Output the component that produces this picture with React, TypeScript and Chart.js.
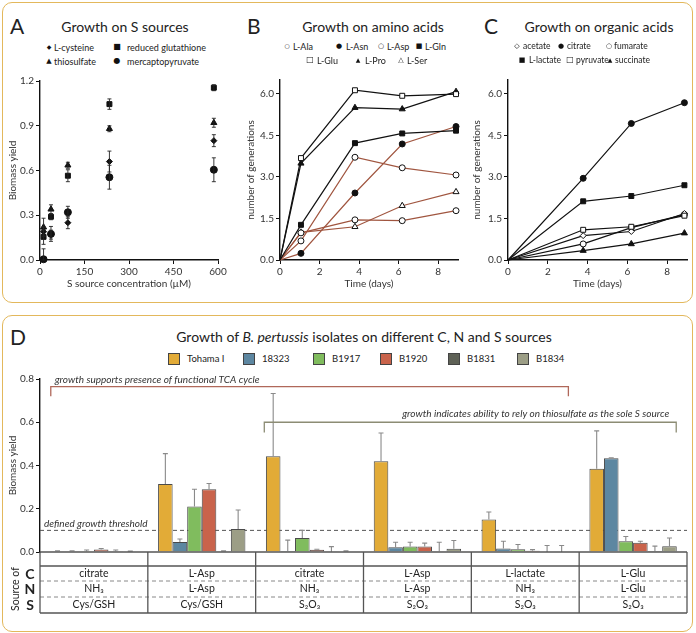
import React, { useEffect, useRef } from "react";
import { Chart, registerables } from "chart.js";
Chart.register(...registerables);

const FONT = "Lato, 'Open Sans', sans-serif";

// ---------- Panel A: Growth on S sources ----------
const concA = [12, 37, 94, 234, 586];
const cysteine = [0.19, 0.17, 0.25, 0.66, 0.8];
const cysteineErr = [0.03, 0.03, 0.04, 0.07, 0.04];
const thiosulfate = [0.22, 0.34, 0.635, 0.88, 0.92];
const thiosulfateErr = [0.06, 0.03, 0.02, 0.02, 0.03];
const glutathione = [0.155, 0.29, 0.565, 1.045, 1.155];
const glutathioneErr = [0.05, 0.02, 0.04, 0.035, 0.02];
const mercapto = [0.005, 0.175, 0.32, 0.555, 0.605];
const mercaptoErr = [0.07, 0.05, 0.04, 0.08, 0.08];
const ticksAy = [0, 0.3, 0.6, 0.9, 1.2];
const ticksAx = [0, 150, 300, 450, 600];

// ---------- Panel B: Growth on amino acids ----------
const timeB = [0, 1.06, 3.79, 6.18, 8.9];
const bAla = [0, 0.98, 1.45, 1.42, 1.78];
const bAsn = [0, 0.24, 2.42, 4.19, 4.82];
const bAsp = [0, 0.69, 3.71, 3.33, 3.07];
const bGln = [0, 1.27, 4.22, 4.57, 4.67];
const bGlu = [0, 3.68, 6.13, 5.93, 5.99];
const bPro = [0, 3.49, 5.5, 5.45, 6.08];
const bSer = [0, 1.0, 1.2, 1.96, 2.46];

// ---------- Panel C: Growth on organic acids ----------
const timeC = [0, 3.78, 6.2, 8.87];
const cAcetate = [0, 0.88, 1.03, 1.68];
const cCitrate = [0, 2.95, 4.93, 5.68];
const cFumarate = [0, 0.58, 1.17, 1.64];
const cLactate = [0, 2.12, 2.31, 2.7];
const cPyruvate = [0, 1.09, 1.2, 1.6];
const cSuccinate = [0, 0.34, 0.58, 0.97];
const ticksGenY = [0, 1.5, 3, 4.5, 6];
const ticksDaysX = [0, 2, 4, 6, 8];

// ---------- Panel D: B. pertussis isolates ----------
const cSrc = ["citrate", "L-Asp", "citrate", "L-Asp", "L-lactate", "L-Glu"];
const nSrc = ["NH₃", "L-Asp", "NH₃", "L-Asp", "NH₃", "L-Glu"];
const sSrc = ["Cys/GSH", "Cys/GSH", "S₂O₃", "S₂O₃", "S₂O₃", "S₂O₃"];
const strains = ["Tohama I", "18323", "B1917", "B1920", "B1831", "B1834"];
const strainColors = ["#E2AB37", "#5D87A1", "#80BC5E", "#C9634B", "#5E6156", "#9C9E86"];
const tohama = [0.003, 0.315, 0.443, 0.42, 0.15, 0.385];
const tohamaErr = [0.003, 0.14, 0.29, 0.13, 0.035, 0.175];
const s18323 = [0.003, 0.046, 0.005, 0.022, 0.016, 0.433];
const s18323Err = [0.003, 0.014, 0.05, 0.023, 0.034, 0.003];
const b1917 = [0.004, 0.21, 0.065, 0.025, 0.013, 0.05];
const b1917Err = [0.005, 0.08, 0.035, 0.02, 0.022, 0.022];
const b1920 = [0.012, 0.29, 0.01, 0.025, 0.006, 0.043];
const b1920Err = [0.004, 0.027, 0.003, 0.016, 0.005, 0.007];
const b1831 = [0.004, 0.003, 0.001, 0.003, 0, 0.005];
const b1831Err = [0.005, 0.002, 0.024, 0.042, 0.03, 0.022];
const b1834 = [0.002, 0.106, 0.002, 0.015, 0, 0.027];
const b1834Err = [0.002, 0.088, 0.003, 0.038, 0.03, 0.038];
const strainValues = [tohama, s18323, b1917, b1920, b1831, b1834];
const strainErrors = [tohamaErr, s18323Err, b1917Err, b1920Err, b1831Err, b1834Err];
const threshold = 0.1;
const ticksDy = [0, 0.2, 0.4, 0.6, 0.8];

const BROWN = "#A0553F";

function pts(xs: number[], ys: number[]) {
  return ys.map((y, i) => ({ x: xs[i], y }));
}

function linAxis(opts: {
  min: number; max: number; ticks: number[]; fmt: (v: number) => string;
  size: number; vertical: boolean; title: string; titlePad: number;
}) {
  return {
    type: "linear",
    min: opts.min,
    max: opts.max,
    afterBuildTicks: (s: any) => { s.ticks = opts.ticks.map((v) => ({ value: v })); },
    afterFit: (s: any) => { if (opts.vertical) s.width = opts.size; else s.height = opts.size; },
    border: { display: true, color: "#111", width: 1.4 },
    grid: { display: true, drawOnChartArea: false, drawTicks: true, tickLength: 4, color: "#111", tickColor: "#111", tickWidth: 1 },
    ticks: { autoSkip: false, padding: 2, color: "#333", font: { family: FONT, size: 10 }, callback: (v: any) => opts.fmt(Number(v)) },
    title: {
      display: true, text: opts.title, color: "#333", font: { family: FONT, size: 10 },
      padding: opts.vertical ? { top: opts.titlePad, bottom: 0 } : { top: 0, bottom: opts.titlePad },
    },
  };
}

const errorBarsA = {
  id: "errA",
  afterDatasetsDraw(chart: any) {
    const { ctx } = chart;
    const y = chart.scales.y;
    ctx.save();
    ctx.strokeStyle = "#222";
    ctx.lineWidth = 0.9;
    chart.data.datasets.forEach((ds: any, i: number) => {
      const meta = chart.getDatasetMeta(i);
      meta.data.forEach((el: any, j: number) => {
        const v = ds.data[j].y;
        const e = ds.errors[j];
        const top = y.getPixelForValue(v + e);
        const bot = y.getPixelForValue(Math.max(0, v - e));
        ctx.beginPath();
        ctx.moveTo(el.x, top); ctx.lineTo(el.x, bot);
        ctx.moveTo(el.x - 2, top); ctx.lineTo(el.x + 2, top);
        ctx.moveTo(el.x - 2, bot); ctx.lineTo(el.x + 2, bot);
        ctx.stroke();
      });
    });
    ctx.restore();
  },
};

const panelDPlugin = {
  id: "panelD",
  beforeDatasetsDraw(chart: any) {
    const { ctx, chartArea } = chart;
    const y = chart.scales.y;
    const ty = y.getPixelForValue(threshold);
    ctx.save();
    ctx.strokeStyle = "#555";
    ctx.lineWidth = 1;
    ctx.setLineDash([4, 3]);
    ctx.beginPath();
    ctx.moveTo(chartArea.left, ty);
    ctx.lineTo(chartArea.right, ty);
    ctx.stroke();
    ctx.setLineDash([]);
    ctx.fillStyle = "#333";
    ctx.font = `italic 10px ${FONT}`;
    ctx.textAlign = "left";
    ctx.textBaseline = "bottom";
    ctx.fillText("defined growth threshold", chartArea.left + 4, ty - 2);
    ctx.restore();
  },
  afterDatasetsDraw(chart: any) {
    const { ctx } = chart;
    const x = chart.scales.x;
    const y = chart.scales.y;
    ctx.save();
    // error bars (upper only)
    ctx.strokeStyle = "#8a8a8a";
    ctx.lineWidth = 1.1;
    chart.data.datasets.forEach((ds: any, i: number) => {
      const meta = chart.getDatasetMeta(i);
      meta.data.forEach((el: any, j: number) => {
        const v = ds.data[j];
        const e = ds.errors[j];
        const top = y.getPixelForValue(v + e);
        ctx.beginPath();
        ctx.moveTo(el.x, el.y);
        ctx.lineTo(el.x, top);
        ctx.moveTo(el.x - 2.5, top);
        ctx.lineTo(el.x + 2.5, top);
        ctx.stroke();
      });
    });
    // brackets
    const brackets = [
      { from: -0.4, to: 4.4, at: 0.765, tick: 0.72, color: "#B0685A", text: "growth supports presence of functional TCA cycle", align: "left" },
      { from: 1.58, to: 5.4, at: 0.6, tick: 0.553, color: "#8C8C74", text: "growth indicates ability to rely on thiosulfate as the sole S source", align: "right" },
    ];
    brackets.forEach((b) => {
      const x1 = x.getPixelForValue(b.from);
      const x2 = x.getPixelForValue(b.to);
      const yl = y.getPixelForValue(b.at);
      const yt = y.getPixelForValue(b.tick);
      ctx.strokeStyle = b.color;
      ctx.lineWidth = 1.3;
      ctx.beginPath();
      ctx.moveTo(x1, yt); ctx.lineTo(x1, yl); ctx.lineTo(x2, yl); ctx.lineTo(x2, yt);
      ctx.stroke();
      ctx.fillStyle = "#333";
      ctx.font = `italic 10px ${FONT}`;
      ctx.textBaseline = "middle";
      if (b.align === "left") {
        ctx.textAlign = "left";
        ctx.fillText(b.text, x1 + 4, yl - 7);
      } else {
        ctx.textAlign = "right";
        ctx.fillText(b.text, x2 - 7, yl - 8);
      }
    });
    ctx.restore();
  },
  afterDraw(chart: any) {
    const { ctx, chartArea } = chart;
    const { left, right, bottom } = chartArea;
    const n = cSrc.length;
    const w = (right - left) / n;
    const rows = [bottom + 14, bottom + 29, bottom + 45, bottom + 61];
    ctx.save();
    const hline = (yy: number, dashed: boolean) => {
      ctx.strokeStyle = dashed ? "#888" : "#555";
      ctx.lineWidth = dashed ? 1 : 1.3;
      ctx.setLineDash(dashed ? [4, 3] : []);
      ctx.beginPath();
      ctx.moveTo(left, yy);
      ctx.lineTo(right, yy);
      ctx.stroke();
    };
    hline(bottom, false);
    hline(rows[0], false);
    hline(rows[1], true);
    hline(rows[2], true);
    hline(rows[3], false);
    ctx.setLineDash([]);
    ctx.strokeStyle = "#555";
    ctx.lineWidth = 1.3;
    for (let k = 0; k <= n; k++) {
      const xx = left + k * w;
      ctx.beginPath();
      ctx.moveTo(xx, bottom);
      ctx.lineTo(xx, rows[3]);
      ctx.stroke();
    }
    ctx.fillStyle = "#222";
    ctx.font = `10.5px ${FONT}`;
    ctx.textAlign = "center";
    ctx.textBaseline = "middle";
    for (let k = 0; k < n; k++) {
      const cx = left + (k + 0.5) * w;
      ctx.fillText(cSrc[k], cx, (rows[0] + rows[1]) / 2);
      ctx.fillText(nSrc[k], cx, (rows[1] + rows[2]) / 2);
      ctx.fillText(sSrc[k], cx, (rows[2] + rows[3]) / 2);
    }
    ctx.restore();
  },
};

function baseOptions(padding: any) {
  return {
    responsive: false,
    animation: false,
    devicePixelRatio: 1,
    layout: { padding },
    plugins: { legend: { display: false }, tooltip: { enabled: false } },
  };
}

function lineDs(xs: number[], ys: number[], color: string, style: string, filled: boolean, radius = 3) {
  return {
    data: pts(xs, ys),
    borderColor: color,
    borderWidth: 1.2,
    pointStyle: style,
    pointRadius: (c: any) => (c.dataIndex === 0 ? 0 : radius),
    pointBackgroundColor: filled ? "#111" : "#fff",
    pointBorderColor: "#111",
    pointBorderWidth: 1,
    clip: false,
    showLine: true,
    fill: false,
  };
}

const T = ({ x, y, s = 9, a = "left", st = {}, children }: any) => {
  const tx = a === "center" ? "-50%" : a === "right" ? "-100%" : "0";
  return (
    <span style={{ position: "absolute", left: x, top: y, transform: `translate(${tx},-50%)`, fontSize: s, lineHeight: 1, whiteSpace: "nowrap", color: "#222", ...st }}>
      {children}
    </span>
  );
};

const G = ({ x, y, g, s = 8 }: any) => (
  <span style={{ position: "absolute", left: x, top: y, transform: "translate(-50%,-50%)", fontSize: s, lineHeight: 1, color: "#111", fontFamily: "DejaVu Sans" }}>{g}</span>
);

export default function App() {
  const refA = useRef<HTMLCanvasElement>(null);
  const refB = useRef<HTMLCanvasElement>(null);
  const refC = useRef<HTMLCanvasElement>(null);
  const refD = useRef<HTMLCanvasElement>(null);

  useEffect(() => {
    Chart.defaults.font.family = FONT;
    const charts: Chart[] = [];

    charts.push(new Chart(refA.current as any, {
      type: "scatter",
      data: {
        datasets: [
          { data: pts(concA, glutathione), errors: glutathioneErr, pointStyle: "rect", pointRadius: 3.5, backgroundColor: "#111", borderColor: "#111", clip: false } as any,
          { data: pts(concA, thiosulfate), errors: thiosulfateErr, pointStyle: "triangle", pointRadius: 3.5, backgroundColor: "#111", borderColor: "#111", clip: false } as any,
          { data: pts(concA, cysteine), errors: cysteineErr, pointStyle: "rectRot", pointRadius: 3, backgroundColor: "#111", borderColor: "#111", clip: false } as any,
          { data: pts(concA, mercapto), errors: mercaptoErr, pointStyle: "circle", pointRadius: 3.5, backgroundColor: "#111", borderColor: "#111", clip: false } as any,
        ],
      },
      options: {
        ...baseOptions({ top: 11, right: 17, left: 0, bottom: 0 }),
        scales: {
          x: linAxis({ min: 0, max: 600, ticks: ticksAx, fmt: (v) => String(v), size: 30, vertical: false, title: "S source concentration (µM)", titlePad: 0 }),
          y: linAxis({ min: 0, max: 1.2, ticks: ticksAy, fmt: (v) => v.toFixed(1), size: 40, vertical: true, title: "Biomass yield", titlePad: 7 }),
        },
      } as any,
      plugins: [errorBarsA],
    }));

    charts.push(new Chart(refB.current as any, {
      type: "line",
      data: {
        datasets: [
          lineDs(timeB, bGlu, "#111", "rect", false, 3.5),
          lineDs(timeB, bPro, "#111", "triangle", true, 3.5),
          lineDs(timeB, bGln, "#111", "rect", true, 3.5),
          lineDs(timeB, bAsn, BROWN, "circle", true),
          lineDs(timeB, bAsp, BROWN, "circle", false),
          lineDs(timeB, bAla, BROWN, "circle", false),
          lineDs(timeB, bSer, BROWN, "triangle", false, 3.5),
        ] as any,
      },
      options: {
        ...baseOptions({ top: 10, right: 10, left: 0, bottom: 0 }),
        scales: {
          x: linAxis({ min: 0, max: 9, ticks: ticksDaysX, fmt: (v) => String(v), size: 30, vertical: false, title: "Time (days)", titlePad: 0 }),
          y: linAxis({ min: 0, max: 6.5, ticks: ticksGenY, fmt: (v) => v.toFixed(1), size: 48, vertical: true, title: "number of generations", titlePad: 13 }),
        },
      } as any,
    }));

    charts.push(new Chart(refC.current as any, {
      type: "line",
      data: {
        datasets: [
          lineDs(timeC, cCitrate, "#111", "circle", true),
          lineDs(timeC, cLactate, "#111", "rect", true, 3.5),
          lineDs(timeC, cPyruvate, "#111", "rect", false, 3.5),
          lineDs(timeC, cAcetate, "#111", "rectRot", false, 3),
          lineDs(timeC, cFumarate, "#111", "circle", false),
          lineDs(timeC, cSuccinate, "#111", "triangle", true, 3.5),
        ] as any,
      },
      options: {
        ...baseOptions({ top: 10, right: 4, left: 0, bottom: 0 }),
        scales: {
          x: linAxis({ min: 0, max: 9, ticks: ticksDaysX, fmt: (v) => String(v), size: 30, vertical: false, title: "Time (days)", titlePad: 0 }),
          y: linAxis({ min: 0, max: 6.5, ticks: ticksGenY, fmt: (v) => v.toFixed(1), size: 38, vertical: true, title: "number of generations", titlePad: 1 }),
        },
      } as any,
    }));

    const yD: any = linAxis({ min: 0, max: 0.8, ticks: ticksDy, fmt: (v) => v.toFixed(1), size: 40, vertical: true, title: "Biomass yield", titlePad: 7 });
    charts.push(new Chart(refD.current as any, {
      type: "bar",
      data: {
        labels: cSrc.map((c, i) => `${c} / ${nSrc[i]} / ${sSrc[i]}`),
        datasets: strains.map((s, i) => ({
          label: s,
          data: strainValues[i],
          errors: strainErrors[i],
          backgroundColor: strainColors[i],
          borderColor: "#4a4a4a",
          borderWidth: 1,
          categoryPercentage: 0.81,
          barPercentage: 1,
        })) as any,
      },
      options: {
        ...baseOptions({ top: 13, right: 9, left: 0, bottom: 0 }),
        scales: {
          x: {
            type: "category",
            display: true,
            afterFit: (s: any) => { s.height = 64; },
            grid: { display: false, drawTicks: false },
            border: { display: false },
            ticks: { display: false },
          },
          y: yD,
        },
      } as any,
      plugins: [panelDPlugin],
    }));

    return () => charts.forEach((c) => c.destroy());
  }, []);

  const box = { position: "absolute", border: "1.5px solid #E3B85C", borderRadius: 10, boxSizing: "border-box" } as any;
  const cv = (l: number, t: number) => ({ position: "absolute", left: l, top: t } as any);

  return (
    <div style={{ position: "absolute", left: 0, top: 0, width: 696, height: 633, background: "#fff", fontFamily: FONT, overflow: "hidden" }}>
      <div style={{ ...box, left: 2, top: 2, width: 691, height: 301 }} />
      <div style={{ ...box, left: 2, top: 315, width: 691, height: 317 }} />

      <canvas ref={refA} width={235} height={220} style={cv(0, 70)} />
      <canvas ref={refB} width={236} height={220} style={cv(232, 70)} />
      <canvas ref={refC} width={222} height={220} style={cv(470, 70)} />
      <canvas ref={refD} width={696} height={250} style={cv(0, 366)} />

      {/* Panel A */}
      <T x={10} y={25} s={21}>A</T>
      <T x={125} y={27} s={14} a="center">Growth on S sources</T>
      <G x={49} y={47} g="◆" s={6} /><T x={54} y={47}>L-cysteine</T>
      <G x={117} y={47} g="■" s={8} /><T x={127} y={47}>reduced glutathione</T>
      <G x={49} y={61} g="▲" s={7} /><T x={54} y={61}>thiosulfate</T>
      <G x={117} y={61} g="●" s={8} /><T x={127} y={61}>mercaptopyruvate</T>

      {/* Panel B */}
      <T x={247} y={25} s={21}>B</T>
      <T x={373} y={27} s={14} a="center">Growth on amino acids</T>
      <G x={287} y={46} g="○" s={6} /><T x={293} y={46}>L-Ala</T>
      <G x={339} y={46} g="●" s={7} /><T x={346} y={46}>L-Asn</T>
      <G x={381} y={46} g="○" s={7} /><T x={387} y={46}>L-Asp</T>
      <G x={419} y={46} g="■" s={7} /><T x={425} y={46}>L-Gln</T>
      <G x={310} y={60} g="□" s={8} /><T x={317} y={60}>L-Glu</T>
      <G x={358} y={60} g="▲" s={6} /><T x={365} y={60}>L-Pro</T>
      <G x={401} y={60} g="△" s={7} /><T x={407} y={60}>L-Ser</T>

      {/* Panel C */}
      <T x={484} y={25} s={21}>C</T>
      <T x={599} y={27} s={14} a="center">Growth on organic acids</T>
      <G x={517} y={46} g="◇" s={7} /><T x={523} y={46} s={8.5}>acetate</T>
      <G x={561} y={46} g="●" s={7} /><T x={567} y={46} s={8.5}>citrate</T>
      <G x={609} y={46} g="○" s={7} /><T x={614} y={46} s={8.5}>fumarate</T>
      <G x={522} y={60} g="■" s={7} /><T x={529} y={60} s={8.5}>L-lactate</T>
      <G x={570} y={60} g="□" s={8} /><T x={576} y={60} s={8.5}>pyruvate</T>
      <G x={610} y={60} g="▲" s={6} /><T x={615} y={60} s={8.5}>succinate</T>

      {/* Panel D */}
      <T x={10} y={336} s={21}>D</T>
      <T x={364} y={337} s={14} a="center">Growth of <i>B. pertussis</i> isolates on different C, N and S sources</T>
      {strains.map((s, i) => {
        const xs = [168, 243, 313, 380, 448, 517][i];
        return (
          <React.Fragment key={s}>
            <span style={{ position: "absolute", left: xs, top: 353, width: 12, height: 12, boxSizing: "border-box", background: strainColors[i], border: "1px solid #444" }} />
            <T x={xs + 19} y={359} s={9.5}>{s}</T>
          </React.Fragment>
        );
      })}
      <T x={30} y={574} s={14} a="center" st={{ fontWeight: 700 }}>C</T>
      <T x={30} y={589} s={14} a="center" st={{ fontWeight: 700 }}>N</T>
      <T x={30} y={605} s={14} a="center" st={{ fontWeight: 700 }}>S</T>
      <span style={{ position: "absolute", left: 15, top: 589, transform: "translate(-50%,-50%) rotate(-90deg)", fontSize: 10.5, lineHeight: 1, whiteSpace: "nowrap", color: "#222" }}>Source of</span>
    </div>
  );
}
